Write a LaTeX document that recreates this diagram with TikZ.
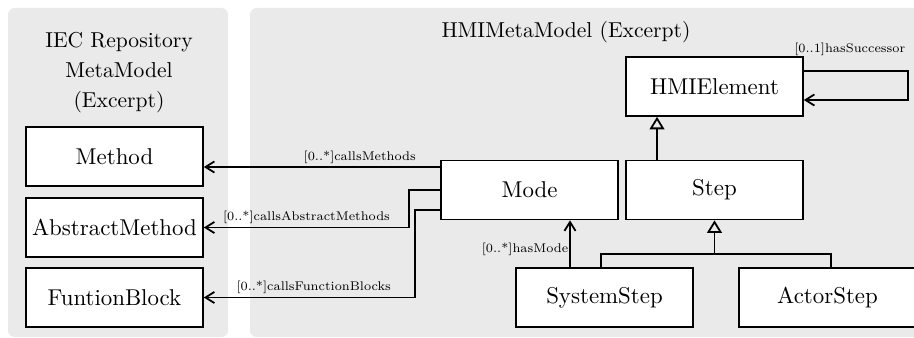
\documentclass[tikz,border=0pt]{standalone}
\usepackage{amsmath}
\usepackage{tikz}
\usepackage{xcolor}
\usetikzlibrary{arrows.meta,calc}

\definecolor{panelgrey}{HTML}{EAEAEA}

\begin{document}
\begin{tikzpicture}[x=0.45pt,y=-0.45pt,
        cls/.style={draw,fill=white,line width=0.8pt,minimum width=79.6pt,minimum height=26.5pt,inner sep=1pt,font=\fontsize{10.3}{12}\selectfont},
        assoc/.style={line width=0.8pt,-{Straight Barb[length=4pt,width=5pt]}},
        inherit/.style={line width=0.8pt,-{Triangle[open,length=5.6pt,width=6.6pt]}},
        lbl/.style={font=\fontsize{7}{8}\selectfont,scale=0.81,inner sep=1.6pt}]
    \useasboundingbox (0,0) rectangle (914,338);
    % the two packages
    \fill[panelgrey,rounded corners=3pt] (8,8) rectangle (228,337);
    \fill[panelgrey,rounded corners=3pt] (250,8) rectangle (940,337);
    \node[align=center,font=\fontsize{9.7}{13.5}\selectfont] (iecTitle) at (119,73) {IEC Repository\\MetaModel\\(Excerpt)};
    \node[font=\fontsize{9.7}{12}\selectfont] (hmiTitle) at (566,32) {HMIMetaModel (Excerpt)};
    % classes
    \node[cls] (Method) at (114.5,156.5) {Method};
    \node[cls] (AbstractMethod) at (114.5,227.5) {AbstractMethod};
    \node[cls] (FuntionBlock) at (114.5,297.5) {FuntionBlock};
    \node[cls] (HMIElement) at (714.5,86.5) {HMIElement};
    \node[cls] (Mode) at (529.5,190) {Mode};
    \node[cls] (Step) at (714.5,190) {Step};
    \node[cls] (SystemStep) at (604.5,297.5) {SystemStep};
    \node[cls] (ActorStep) at (827.5,297.5) {ActorStep};
    % associations
    \draw[assoc] ($(Mode.west)+(0,-23)$) coordinate (cm) -- (cm -| Method.east)
        node[lbl,above,pos=0.34] {[0..*]callsMethods};
    \draw[assoc] (Mode.west) -- ++(-31,0) |- (AbstractMethod.east)
        node[lbl,above,pos=0.75] {[0..*]callsAbstractMethods};
    \draw[assoc] ($(Mode.west)+(0,20)$) -- ++(-25,0) |- (FuntionBlock.east)
        node[lbl,above,pos=0.74] {[0..*]callsFunctionBlocks};
    \draw[assoc] ($(SystemStep.north)+(-34.5,0)$) coordinate (hm) -- (hm |- Mode.south)
        node[lbl,left,pos=0.37,inner sep=0.6pt] {[0..*]hasMode};
    \draw[assoc] ($(HMIElement.east)+(0,-15.5)$) -- ++(104,0)
        node[lbl,anchor=south east,pos=1,xshift=0.5pt,yshift=6.3pt] {[0..1]hasSuccessor}
        |- ($(HMIElement.east)+(0,13.5)$);
    % generalisations
    \draw[inherit] ($(Step.north)+(-57.5,0)$) coordinate (gs) -- (gs |- HMIElement.south);
    \draw[inherit] ($(SystemStep.north)+(-3.5,0)$) |- ($(Step.south)+(0,34)$) -- (Step.south);
    \draw[line width=0.8pt] ($(ActorStep.north)+(3.5,0)$) |- ($(Step.south)+(0,34)$);
\end{tikzpicture}
\end{document}
